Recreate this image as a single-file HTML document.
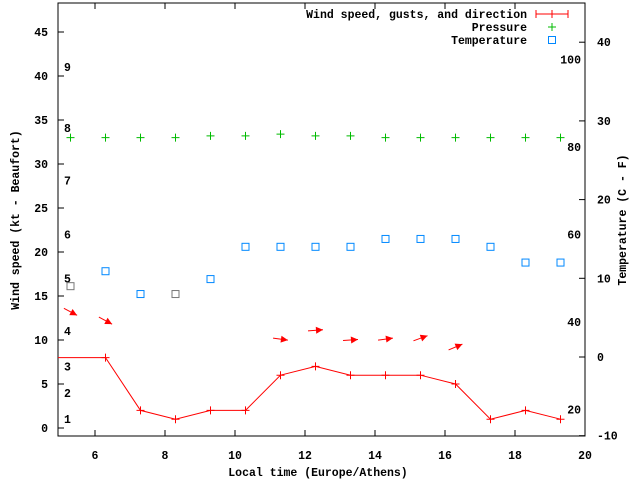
<!DOCTYPE html>
<html><head><meta charset="utf-8"><style>
body{margin:0;background:#fff}
svg text{font-family:"Liberation Mono",monospace;font-weight:bold;font-size:11.5px;fill:#000}
</style></head><body>
<svg id="c" width="640" height="480" xmlns="http://www.w3.org/2000/svg"></svg>
<script>
const hours=[5.3,6.3,7.3,8.3,9.3,10.3,11.3,12.3,13.3,14.3,15.3,16.3,17.3,18.3,19.3];
const wind=[8,8,2,1,2,2,6,7,6,6,6,5,1,2,1];
const pressure=[33,33,33,33,33.2,33.2,33.4,33.2,33.2,33,33,33,33,33,33];
const tempC=[9,10.9,8,8,9.9,14,14,14,14,15,15,15,14,12,12];
const tempGrey=[true,false,false,true,false,false,false,false,false,false,false,false,false,false,false];
const arrowHours=[5.3,6.3,11.3,12.3,13.3,14.3,15.3,16.3];
const arrowLevel=[13.2,12.2,10.1,11.1,10,10.1,10.2,9.2];
const arrowAngle=[28,28,8,-4,-4,-8,-20,-23];
const xTicks=[6,8,10,12,14,16,18,20];
const yTicks=[0,5,10,15,20,25,30,35,40,45];
const y2Ticks=[-10,0,10,20,30,40];
const fLabels=[100,80,60,40,20];
const bLabels=[1,2,3,4,5,6,7,8,9];
const bLevels=[1,4,7,11,17,22,28.1,34.1,41];
const L=58,R=585,T=3,B=436;
const X=h=>95+(h-6)*35;
const Y=v=>428-v*8.8;
const Y2=c=>357-c*7.87;
const s=document.getElementById('c');
const NS='http://www.w3.org/2000/svg';
function mk(t,a,txt){const e=document.createElementNS(NS,t);for(const k in a)e.setAttribute(k,a[k]);if(txt!==undefined)e.textContent=txt;s.appendChild(e);return e;}
let e;
e=mk('rect',{x:L,y:T,width:R-L,height:B-T,fill:'none',stroke:'#000','stroke-width':1});

xTicks.forEach(t=>{const x=X(t);mk('line',{x1:x,y1:B,x2:x,y2:B-6,stroke:'#000'});mk('line',{x1:x,y1:T,x2:x,y2:T+6,stroke:'#000'});
 e=mk('text',{x:x,y:459,'text-anchor':'middle'},t);});
yTicks.forEach(t=>{const y=Y(t);mk('line',{x1:L,y1:y,x2:L+6,y2:y,stroke:'#000'});
 e=mk('text',{x:48,y:y+4,'text-anchor':'end'},t);});
y2Ticks.forEach(t=>{const y=Y2(t);mk('line',{x1:R,y1:y,x2:R-6,y2:y,stroke:'#000'});
 e=mk('text',{x:597,y:y+4},t);});
fLabels.forEach(f=>{e=mk('text',{x:581,y:Y2((f-32)*5/9)+4,'text-anchor':'end'},f);});
bLabels.forEach((b,i)=>{e=mk('text',{x:64,y:Y(bLevels[i])+4},b);});
e=mk('text',{x:318,y:476,'text-anchor':'middle'},'Local time (Europe/Athens)');
e=mk('text',{x:19,y:220,'text-anchor':'middle',transform:'rotate(-90 19 220)'},'Wind speed (kt - Beaufort)');
e=mk('text',{x:626,y:220,'text-anchor':'middle',transform:'rotate(-90 626 220)'},'Temperature (C - F)');
e=mk('polyline',{points:[[L,Y(wind[0])]].concat(hours.slice(1).map((h,i)=>[X(h),Y(wind[i+1])])).map(p=>p.join(',')).join(' '),fill:'none',stroke:'#f00'});

hours.forEach((h,i)=>{if(i==0)return;const x=X(h),y=Y(wind[i]);e=mk('path',{d:`M${x-4},${y}H${x+4}M${x},${y-4}V${y+4}`,stroke:'#f00'});});
pressure.forEach((p,i)=>{const x=X(hours[i]),y=Y(p);e=mk('path',{d:`M${x-4},${y}H${x+4}M${x},${y-4}V${y+4}`,stroke:'#0b0'});});
tempC.forEach((c,i)=>{const x=X(hours[i]),y=Y2(c);e=mk('rect',{x:x-3.5,y:y-3.5,width:7,height:7,fill:'none',stroke:tempGrey[i]?'#777':'#08f'});});
arrowHours.forEach((h,i)=>{const cx=X(h),cy=Y(arrowLevel[i]);const a=arrowAngle[i]*Math.PI/180;const dx=Math.cos(a)*7.5,dy=Math.sin(a)*7.5;
 const x2=cx+dx,y2=cy+dy;const ux=Math.cos(a),uy=Math.sin(a);
 const g=mk('g',{});
 const l=document.createElementNS(NS,'line');l.setAttribute('x1',cx-dx);l.setAttribute('y1',cy-dy);l.setAttribute('x2',x2);l.setAttribute('y2',y2);l.setAttribute('stroke','#f00');g.appendChild(l);
 const p=document.createElementNS(NS,'polygon');p.setAttribute('points',`${x2},${y2} ${x2-7*ux+3.5*uy},${y2-7*uy-3.5*ux} ${x2-7*ux-3.5*uy},${y2-7*uy+3.5*ux}`);p.setAttribute('fill','#f00');g.appendChild(p);});
e=mk('text',{x:527,y:18,'text-anchor':'end'},'Wind speed, gusts, and direction');
mk('path',{d:'M536,14H568M536,10V18M568,10V18M552,10V18',stroke:'#f00'});
e=mk('text',{x:527,y:31,'text-anchor':'end'},'Pressure');
mk('path',{d:'M548,27H556M552,23V31',stroke:'#0b0'});
e=mk('text',{x:527,y:44,'text-anchor':'end'},'Temperature');
mk('rect',{x:548.5,y:36.5,width:7,height:7,fill:'none',stroke:'#08f'});
</script>
</body></html>
